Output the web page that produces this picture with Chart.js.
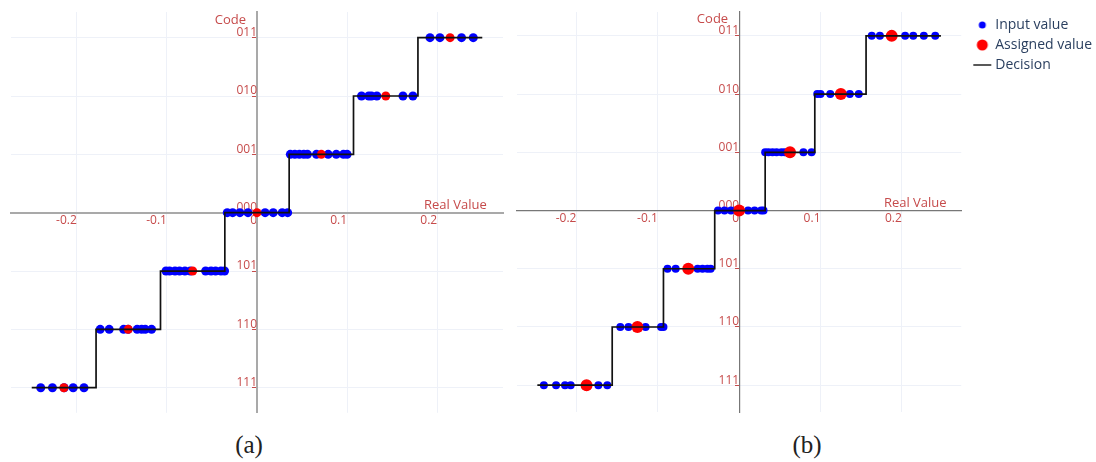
<!DOCTYPE html>
<html>
<head>
<meta charset="utf-8">
<script src="https://cdn.jsdelivr.net/npm/chart.js@4"></script>
<style>
	body { margin: 0; background: #fff; }
	#wrap { position: relative; width: 1096px; height: 462px; overflow: hidden; }
	#chartA { position: absolute; left: 0; top: 0; }
	#chartB { position: absolute; left: 510px; top: 0; }
	.caption {
		position: absolute;
		top: 431px;
		width: 60px;
		text-align: center;
		font: 25px 'Liberation Serif', 'DejaVu Serif', serif;
		color: #222;
	}
</style>
</head>
<body>
<div id="wrap">
	<canvas id="chartA" width="510" height="420"></canvas>
	<canvas id="chartB" width="620" height="420"></canvas>
	<div class="caption" style="left: 219px">(a)</div>
	<div class="caption" style="left: 777px">(b)</div>
</div>
<script>
// Quantizer levels and their 3-bit sign/magnitude codes
const levels = [-3, -2, -1, 0, 1, 2, 3];
const codeNames = ['111', '110', '101', '000', '001', '010', '011'];
const xTicks = [-0.2, -0.1, 0, 0.1, 0.2];

// (a) uniform quantizer
const edgesA = [-0.25, -0.1786, -0.1071, -0.0357, 0.0357, 0.1071, 0.1786, 0.25];
const assignedA = [-0.2143, -0.1429, -0.0714, 0, 0.0714, 0.1429, 0.2143];
const inputA = [
	[-0.24, -0.227, -0.214, -0.204, -0.192],
	[-0.174, -0.164, -0.148, -0.143, -0.133, -0.128, -0.124, -0.117],
	[-0.101, -0.097, -0.091, -0.086, -0.08, -0.074, -0.057, -0.051, -0.046, -0.04, -0.036],
	[-0.033, -0.027, -0.019, -0.01, 0.009, 0.018, 0.028, 0.034],
	[0.037, 0.042, 0.047, 0.052, 0.056, 0.066, 0.079, 0.088, 0.096, 0.1],
	[0.116, 0.124, 0.127, 0.133, 0.162, 0.173],
	[0.192, 0.203, 0.227, 0.24]
];

// (b) non-uniform quantizer
const edgesB = [-0.248, -0.156, -0.093, -0.03, 0.032, 0.093, 0.156, 0.248];
const assignedB = [-0.1875, -0.125, -0.0625, 0, 0.0625, 0.125, 0.1875];
const inputB = [
	[-0.24, -0.225, -0.214, -0.207, -0.173, -0.162],
	[-0.146, -0.136, -0.125, -0.115, -0.096, -0.093],
	[-0.088, -0.078, -0.062, -0.051, -0.045, -0.039, -0.035],
	[-0.026, -0.018, -0.01, 0.011, 0.019, 0.027, 0.03],
	[0.032, 0.036, 0.041, 0.046, 0.052, 0.056, 0.079, 0.089],
	[0.096, 0.1, 0.112, 0.136, 0.147],
	[0.163, 0.173, 0.204, 0.214, 0.227, 0.241]
];

const RED = '#c64b4b';
const GRID = '#eef1f8';
Chart.defaults.font.family = "'Open Sans', sans-serif";

const inputPoints = input => input.flatMap((xs, i) => xs.map(x => ({ x, y: levels[i] })));
const assignedPoints = assigned => assigned.map((x, i) => ({ x, y: levels[i] }));
// one point per threshold, the line stays flat on a level until the next one
const decisionPoints = edges => edges.map((x, i) => ({ x, y: levels[Math.min(i, levels.length - 1)] }));

// small icons for the legend
const dot = (r, color) => {
	const c = document.createElement('canvas');
	c.width = 20; c.height = 14;
	const g = c.getContext('2d');
	g.fillStyle = color;
	g.beginPath(); g.arc(10, 7, r, 0, Math.PI * 2); g.fill();
	return c;
};
const dash = () => {
	const c = document.createElement('canvas');
	c.width = 20; c.height = 14;
	const g = c.getContext('2d');
	g.strokeStyle = '#222'; g.lineWidth = 1.5;
	g.beginPath(); g.moveTo(1, 7); g.lineTo(19, 7); g.stroke();
	return c;
};
const legendIcons = [dot(3.5, '#0000ff'), dot(5.5, '#ff0000'), dash()];

// "Code" and "Real Value" axis captions next to the origin
const axisCaptions = {
	id: 'axisCaptions',
	afterDraw(chart) {
		const { ctx, scales: { x, y } } = chart;
		ctx.save();
		ctx.fillStyle = RED;
		ctx.font = "13px 'Open Sans', sans-serif";
		ctx.textBaseline = 'middle';
		ctx.textAlign = 'right';
		ctx.fillText('Code', x.getPixelForValue(0) - 11, y.getPixelForValue(3) - 17);
		ctx.fillText('Real Value', x.getPixelForValue(0.255), y.getPixelForValue(0) - 7);
		ctx.restore();
	}
};

const makeChart = (id, { edges, assigned, input, yMin, yMax, axisColor, axisWidth, blueR, redR, padding, legend }) => {
	const scales = {
		x: {
			type: 'linear',
			min: -0.273,
			max: 0.273,
			position: { y: 0 },
			afterBuildTicks: s => { s.ticks = xTicks.map(value => ({ value })); },
			grid: { color: GRID, drawTicks: false },
			border: { color: axisColor, width: axisWidth },
			ticks: { color: RED, font: { size: 12 }, padding: 1, align: 'end', maxRotation: 0, callback: v => String(v) }
		},
		y: {
			type: 'linear',
			min: yMin,
			max: yMax,
			position: { x: 0 },
			afterBuildTicks: s => { s.ticks = levels.map(value => ({ value })); },
			grid: { color: GRID, drawTicks: true, tickLength: 4, tickColor: RED },
			border: { color: axisColor, width: axisWidth },
			ticks: { color: RED, font: { size: 12 }, padding: 0, labelOffset: -5, callback: v => codeNames[levels.indexOf(v)] }
		}
	};
	if (legend) {
		// empty right-hand axis keeps a gap between the plot and the legend
		scales.gap = {
			type: 'linear', axis: 'y', position: 'right', display: true,
			grid: { display: false }, border: { display: false }, ticks: { display: false },
			afterFit: s => { s.width = 9; }
		};
	}
	return new Chart(document.getElementById(id), {
		type: 'scatter',
		data: {
			datasets: [
				{
					label: 'Input value',
					data: inputPoints(input),
					backgroundColor: '#0000ff',
					pointRadius: blueR,
					pointBorderWidth: 0,
					order: 2
				},
				{
					label: 'Assigned value',
					data: assignedPoints(assigned),
					backgroundColor: '#ff0000',
					pointRadius: redR,
					pointBorderWidth: 0,
					order: 1
				},
				{
					label: 'Decision',
					data: decisionPoints(edges),
					showLine: true,
					stepped: 'before',
					borderColor: '#111',
					borderWidth: 1.7,
					pointRadius: 0,
					order: 0
				}
			]
		},
		options: {
			responsive: false,
			animation: false,
			layout: { padding },
			scales,
			plugins: {
				tooltip: { enabled: false },
				legend: {
					display: !!legend,
					position: 'right',
					align: 'start',
					maxWidth: 200,
					labels: {
						usePointStyle: true,
						pointStyleWidth: 12,
						padding: 6,
						color: '#2a3f5f',
						font: { size: 14 },
						sort: (a, b) => a.datasetIndex - b.datasetIndex,
						generateLabels: chart => Chart.defaults.plugins.legend.labels.generateLabels(chart)
							.map(item => ({ ...item, pointStyle: legendIcons[item.datasetIndex] }))
					}
				}
			}
		},
		plugins: [axisCaptions]
	});
};

makeChart('chartA', {
	edges: edgesA, assigned: assignedA, input: inputA,
	yMin: -3.43, yMax: 3.44,
	axisColor: '#a9a9a9', axisWidth: 2,
	blueR: 4.5, redR: 4.5,
	padding: { left: 11, right: 7, top: 12, bottom: 5 }
});

makeChart('chartB', {
	edges: edgesB, assigned: assignedB, input: inputB,
	yMin: -3.46, yMax: 3.41,
	axisColor: '#777', axisWidth: 1.2,
	blueR: 4, redR: 6,
	padding: { left: 7, right: 28, top: 12, bottom: 8 },
	legend: true
});
</script>
</body>
</html>
